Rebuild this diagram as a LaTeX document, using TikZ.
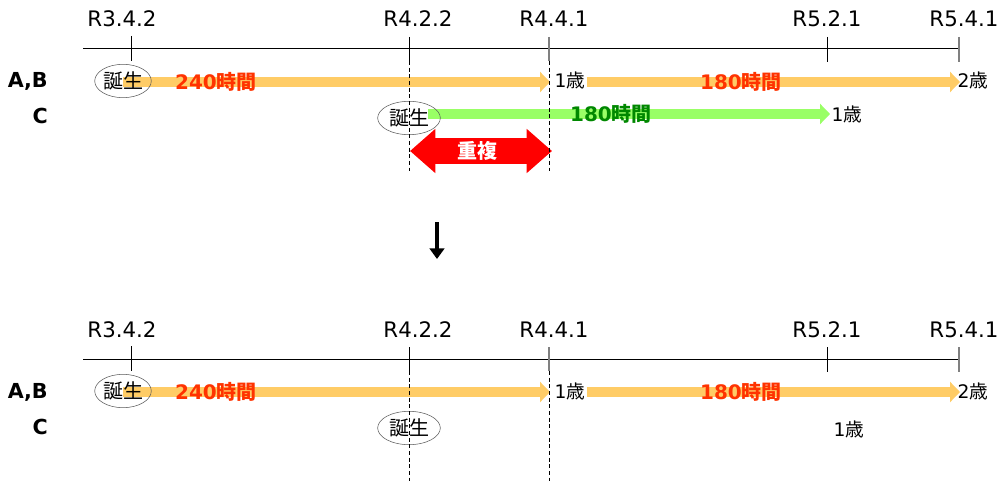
\documentclass[tikz,border=0pt]{standalone}
\usepackage{fontspec}
\setmainfont{DejaVu Sans}
\newfontfamily\jp{Noto Sans CJK JP}
\usetikzlibrary{arrows.meta,shapes.geometric,backgrounds}
\definecolor{bandorange}{RGB}{255,204,102}
\definecolor{bandgreen}{RGB}{153,255,102}
\definecolor{hourred}{RGB}{255,51,0}
\definecolor{hourgreen}{RGB}{0,136,0}
\definecolor{ovalgray}{RGB}{90,90,90}
\newcommand{\sai}[1]{#1{\jp 歳}}
\newcommand{\hours}[1]{#1{\jp\bfseries 時間}}

\begin{document}
\begin{tikzpicture}[x=0.75pt, y=-0.75pt]
  \tikzset{
    datelabel/.style={font=\fontsize{16}{19}\selectfont, anchor=base, inner sep=0pt},
    rowlabel/.style={font=\fontsize{15.5}{18}\selectfont\bfseries, anchor=base east, inner sep=0pt},
    birth/.style={draw=ovalgray, ellipse, inner sep=0pt, minimum height=25pt,
                  font=\jp\fontsize{15}{18}\selectfont},
    agelabel/.style={font=\fontsize{14}{17}\selectfont, anchor=base west, inner sep=1pt},
    hourlabel/.style={font=\fontsize{15}{18}\selectfont\bfseries, inner sep=0pt},
    band/.style={line width=7.5pt, -{Triangle[length=7.5pt, width=15pt]}},
    overlap/.style={line width=19.5pt, red,
                    {Triangle[length=19pt, width=32pt]}-{Triangle[length=19pt, width=32pt]}},
    guide/.style={line width=0.6pt, dash pattern=on 3pt off 2pt}
  }
  \useasboundingbox (0,0) rectangle (1002,481);

  % the two timelines
  \foreach \y/\p in {0/t, 310/b} {
    \draw[line width=0.75pt] (83,49+\y) -- (959,49+\y);
    \draw[line width=0.75pt] (131,36+\y) -- (131,61+\y);
    \draw[line width=0.75pt] (409,37+\y) -- (409,61+\y);
    \draw[line width=1.3pt, gray] (549,37+\y) -- (549,61+\y);
    \draw[line width=0.75pt] (827,37+\y) -- (827,62+\y);
    \draw[line width=1.3pt, gray] (959,37+\y) -- (959,62+\y);
    \node[datelabel] (date-\p-1) at (122,27+\y) {R3.4.2};
    \node[datelabel] (date-\p-2) at (418,27+\y) {R4.2.2};
    \node[datelabel] (date-\p-3) at (554,27+\y) {R4.4.1};
    \node[datelabel] (date-\p-4) at (827,27+\y) {R5.2.1};
    \node[datelabel] (date-\p-5) at (964,27+\y) {R5.4.1};
    \node[rowlabel] (row-\p-ab) at (48,88+\y) {A,B};
    \node[rowlabel] (row-\p-c) at (48,124+\y) {C};

    % A,B
    \node[birth, minimum width=41pt] (birth-\p-1) at (123,81+\y) {誕生};
    \coordinate (tip-\p-1) at (550,82+\y);
    \node[agelabel] (age-\p-1) at (553,88+\y) {\sai{1}};
    \coordinate (tip-\p-2) at (960,82+\y);
    \node[agelabel] (age-\p-2) at (956,88+\y) {\sai{2}};
    \begin{scope}[on background layer]
      \draw[band, bandorange] (birth-\p-1.center |- tip-\p-1) -- (tip-\p-1);
      \draw[band, bandorange] (age-\p-1.east |- tip-\p-2) -- (tip-\p-2);
    \end{scope}
    \node[hourlabel, hourred] (hours-\p-1) at (216,82+\y) {\hours{240}};
    \node[hourlabel, hourred] (hours-\p-2) at (741,82+\y) {\hours{180}};

    % C
    \node[birth, minimum width=47pt] (birth-\p-2) at (409,118+\y) {誕生};
  }

  % C before
  \coordinate (start-t-3) at (428,114);
  \coordinate (tip-t-3) at (830,114);
  \begin{scope}[on background layer]
    \draw[band, bandgreen] (start-t-3) -- (tip-t-3);
  \end{scope}
  \node[hourlabel, hourgreen] (hours-t-3) at (611,114) {\hours{180}};
  \node[agelabel] (age-t-3) at (830,122) {\sai{1}};

  % overlap
  \coordinate (ov-l) at (410,151);
  \coordinate (ov-r) at (552,151);
  \draw[overlap] (ov-l) -- (ov-r);
  \node[font=\jp\bfseries\fontsize{15}{18}\selectfont, white] (ov) at (477,151) {重複};

  % C after
  \node[agelabel] (age-b-3) at (832,436) {\sai{1}};

  % guides
  \draw[guide] (409,61) -- (409,171);
  \draw[guide] (549,61) -- (549,171);
  \draw[guide] (409,371) -- (409,481);
  \draw[guide] (549,371) -- (549,481);

  \coordinate (down-a) at (437,222);
  \coordinate (down-b) at (437,259);
  \draw[line width=3pt, -{Triangle[length=8pt, width=11pt]}] (down-a) -- (down-b);
\end{tikzpicture}
\end{document}
